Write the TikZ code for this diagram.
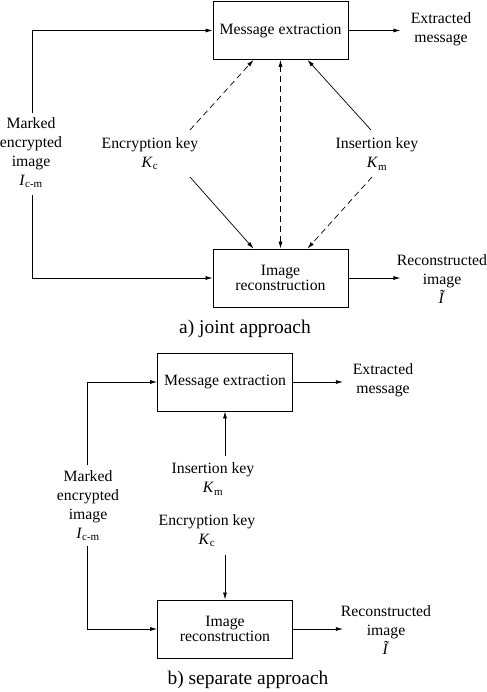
\documentclass[tikz,border=0pt]{standalone}
\usepackage{fontspec}
\setmainfont{Liberation Serif}
\usetikzlibrary{arrows.meta}
\begin{document}
\begin{tikzpicture}[x=1bp,y=-1bp,
  box/.style={draw,line width=0.8bp,minimum width=135bp,minimum height=58bp,inner sep=0pt,align=center,font=\fontsize{15.8}{15.5}\selectfont},
  lbl/.style={align=center,inner sep=0pt,font=\fontsize{15.8}{19}\selectfont},
  captxt/.style={inner sep=0pt,font=\fontsize{19.5}{22}\selectfont},
  arr/.style={line width=0.7bp,-{Latex[length=7bp,width=4bp]}},
  dsh/.style={arr,dash pattern=on 6bp off 4bp}]
\useasboundingbox (0,0) rectangle (487,692);
% ---------- a) joint approach ----------
\node[box] (me1) at (280.5,30.5) {Message extraction};
\node[box] (ir1) at (280.5,278) {Image\\[-1bp]reconstruction};
\node[lbl] (em1) at (441,29.5) {Extracted\\message};
\node[lbl] (rc1) at (442,279) {Reconstructed\\image\\\textit{Ĩ}};
\node[lbl] (mk1) at (31,153) {Marked\\encrypted\\image\\\textit{I}\textsubscript{c-m}};
\node[lbl] (ek1) at (150,154) {Encryption key\\\textit{K}\textsubscript{c}};
\node[lbl] (ik1) at (377,154) {Insertion key\\\textit{K}\textsubscript{m}};
\node[captxt] (ca) at (245,329) {a)\ joint approach};
\coordinate (mkt1) at (32,113);
\coordinate (mkb1) at (32,195);
\coordinate (ekt1) at (190,130);
\coordinate (ekb1) at (190,177);
\coordinate (ikt1) at (371,130);
\coordinate (ikb1) at (372,177);
\draw[arr] (mkt1) |- (me1.west);
\draw[arr] (mkb1) |- (ir1.west);
\draw[arr] (me1.east) -- ([xshift=52bp]me1.east);
\draw[arr] (ir1.east) -- ([xshift=52bp]ir1.east);
\draw[dsh] (ekt1) -- ([xshift=-27bp]me1.south);
\draw[arr] (ikt1) -- ([xshift=27bp]me1.south);
\draw[arr] (ekb1) -- ([xshift=-27bp]ir1.north);
\draw[dsh] (ikb1) -- ([xshift=27bp]ir1.north);
\draw[dsh,{Latex[length=7bp,width=4bp]}-{Latex[length=7bp,width=4bp]}] (ir1.north) -- (me1.south);
% ---------- b) separate approach ----------
\node[box] (me2) at (225,382) {Message extraction};
\node[box] (ir2) at (225,629) {Image\\[-1bp]reconstruction};
\node[lbl] (em2) at (383,380.5) {Extracted\\message};
\node[lbl] (rc2) at (386,630) {Reconstructed\\image\\\textit{Ĩ}};
\node[lbl] (mk2) at (88,506) {Marked\\encrypted\\image\\\textit{I}\textsubscript{c-m}};
\node[lbl] (ik2) at (213,479) {Insertion key\\\textit{K}\textsubscript{m}};
\node[lbl] (ek2) at (207,531) {Encryption key\\\textit{K}\textsubscript{c}};
\node[captxt] (cb) at (248,680) {b)\ separate approach};
\coordinate (mkt2) at (87,465);
\coordinate (mkb2) at (87,546);
\coordinate (ikt2) at (225,456);
\coordinate (ekb2) at (225,555);
\draw[arr] (mkt2) |- (me2.west);
\draw[arr] (mkb2) |- (ir2.west);
\draw[arr] (me2.east) -- ([xshift=50bp]me2.east);
\draw[arr] (ir2.east) -- ([xshift=50bp]ir2.east);
\draw[arr] (ikt2) -- (me2.south);
\draw[arr] (ekb2) -- (ir2.north);
\end{tikzpicture}
\end{document}
